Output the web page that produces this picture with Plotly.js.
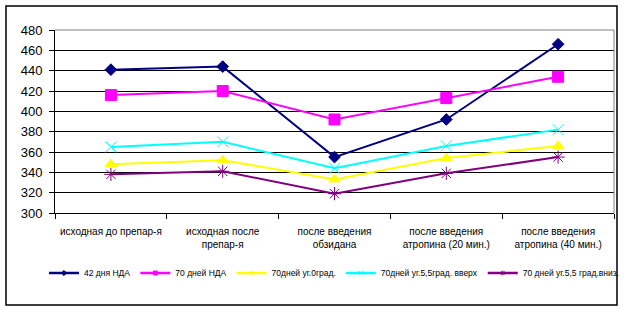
<!DOCTYPE html>
<html>
<head>
<meta charset="utf-8">
<script src="https://cdn.plot.ly/plotly-3.0.1.min.js"></script>
<style>
html,body{margin:0;padding:0;background:#fff;}
#chart{width:624px;height:311px;}
</style>
</head>
<body>
<div id="chart"></div>
<script>
const categories = [
  "исходная до препар-я",
  "исходная после<br>препар-я",
  "после введения<br>обзидана",
  "после введения<br>атропина (20 мин.)",
  "после введения<br>атропина (40 мин.)"
];
const seriesNames = [
  "42 дня НДА",
  "70 дней НДА",
  "70дней уг.0град.",
  "70дней уг.5,5град. вверх",
  "70 дней уг.5,5 град.вниз."
];
const nda42 = [441, 444, 355, 392, 466];
const nda70 = [416, 420, 392, 413, 434];
const ug0 = [348, 352, 333, 354, 366];
const ugUp = [365, 370, 344, 366, 382];
const ugDown = [338, 341, 319, 339, 355];
const yTicks = [300, 320, 340, 360, 380, 400, 420, 440, 460, 480];

const styles = [
  {color: "#000080", symbol: "diamond", size: 9},
  {color: "#FF00FF", symbol: "square", size: 11},
  {color: "#FFFF00", symbol: "triangle-up", size: 10},
  {color: "#00FFFF", symbol: "x-thin-open", size: 11},
  {color: "#800080", symbol: "asterisk-open", size: 11}
];
const values = [nda42, nda70, ug0, ugUp, ugDown];

const traces = values.map((v, i) => ({
  type: "scatter",
  mode: "lines+markers",
  x: categories,
  y: v,
  name: seriesNames[i],
  showlegend: false,
  line: {color: styles[i].color, width: 2},
  marker: {color: styles[i].color, symbol: styles[i].symbol, size: styles[i].size,
           line: {color: styles[i].color, width: 1}}
}));
// legend-only entries with small markers (as in the reference legend)
const legendTraces = values.map((v, i) => ({
  type: "scatter",
  mode: "lines+markers",
  x: [null],
  y: [null],
  name: seriesNames[i],
  showlegend: true,
  hoverinfo: "skip",
  line: {color: styles[i].color, width: 2.5},
  marker: {color: styles[i].color, symbol: styles[i].symbol, size: 4,
           line: {color: styles[i].color, width: 1}}
}));

const font = "Liberation Sans, Arial, sans-serif";
const layout = {
  width: 624, height: 311,
  margin: {l: 55, r: 10, t: 30, b: 98},
  paper_bgcolor: "#fff",
  plot_bgcolor: "#fff",
  font: {family: font, color: "#000", size: 10},
  showlegend: true,
  legend: {
    orientation: "h",
    x: -0.0143, xanchor: "left",
    y: -0.328, yanchor: "middle",
    font: {family: "Liberation Sans Narrow, Liberation Sans, Arial, sans-serif", size: 8.5, color: "#000"},
    itemsizing: "trace",
    tracegroupgap: 0,
    bgcolor: "rgba(0,0,0,0)"
  },
  xaxis: {
    type: "category",
    range: [-0.5, 4.5],
    tickson: "boundaries",
    ticks: "outside", ticklen: 5, tickcolor: "#000", tickwidth: 1,
    showline: true, linecolor: "#000", linewidth: 1,
    showgrid: false, zeroline: false,
    tickfont: {size: 10, family: font},
    ticklabelstandoff: 9,
    fixedrange: true
  },
  yaxis: {
    range: [300, 480],
    tickvals: yTicks,
    ticktext: yTicks.map(String),
    ticks: "outside", ticklen: 5, tickcolor: "#000",
    showline: true, linecolor: "#000", linewidth: 1,
    showgrid: true, gridcolor: "#000", gridwidth: 1,
    zeroline: false,
    tickfont: {size: 13, family: font},
    ticklabelstandoff: 4,
    fixedrange: true
  },
  shapes: [
    {type: "line", xref: "paper", yref: "paper", x0: 0, x1: 1, y0: 1, y1: 1,
     line: {color: "#808080", width: 1}, layer: "above"},
    {type: "line", xref: "paper", yref: "paper", x0: 1, x1: 1, y0: 0, y1: 1,
     line: {color: "#808080", width: 1}, layer: "above"},
    {type: "rect", xref: "paper", yref: "paper",
     x0: (6 - 55) / 559, x1: (617 - 55) / 559,
     y0: (213 - 305) / 183, y1: (213 - 6) / 183,
     line: {color: "#000", width: 1.5}, layer: "above"}
  ]
};

Plotly.newPlot("chart", traces.concat(legendTraces), layout, {displayModeBar: false, staticPlot: true});
</script>
</body>
</html>
